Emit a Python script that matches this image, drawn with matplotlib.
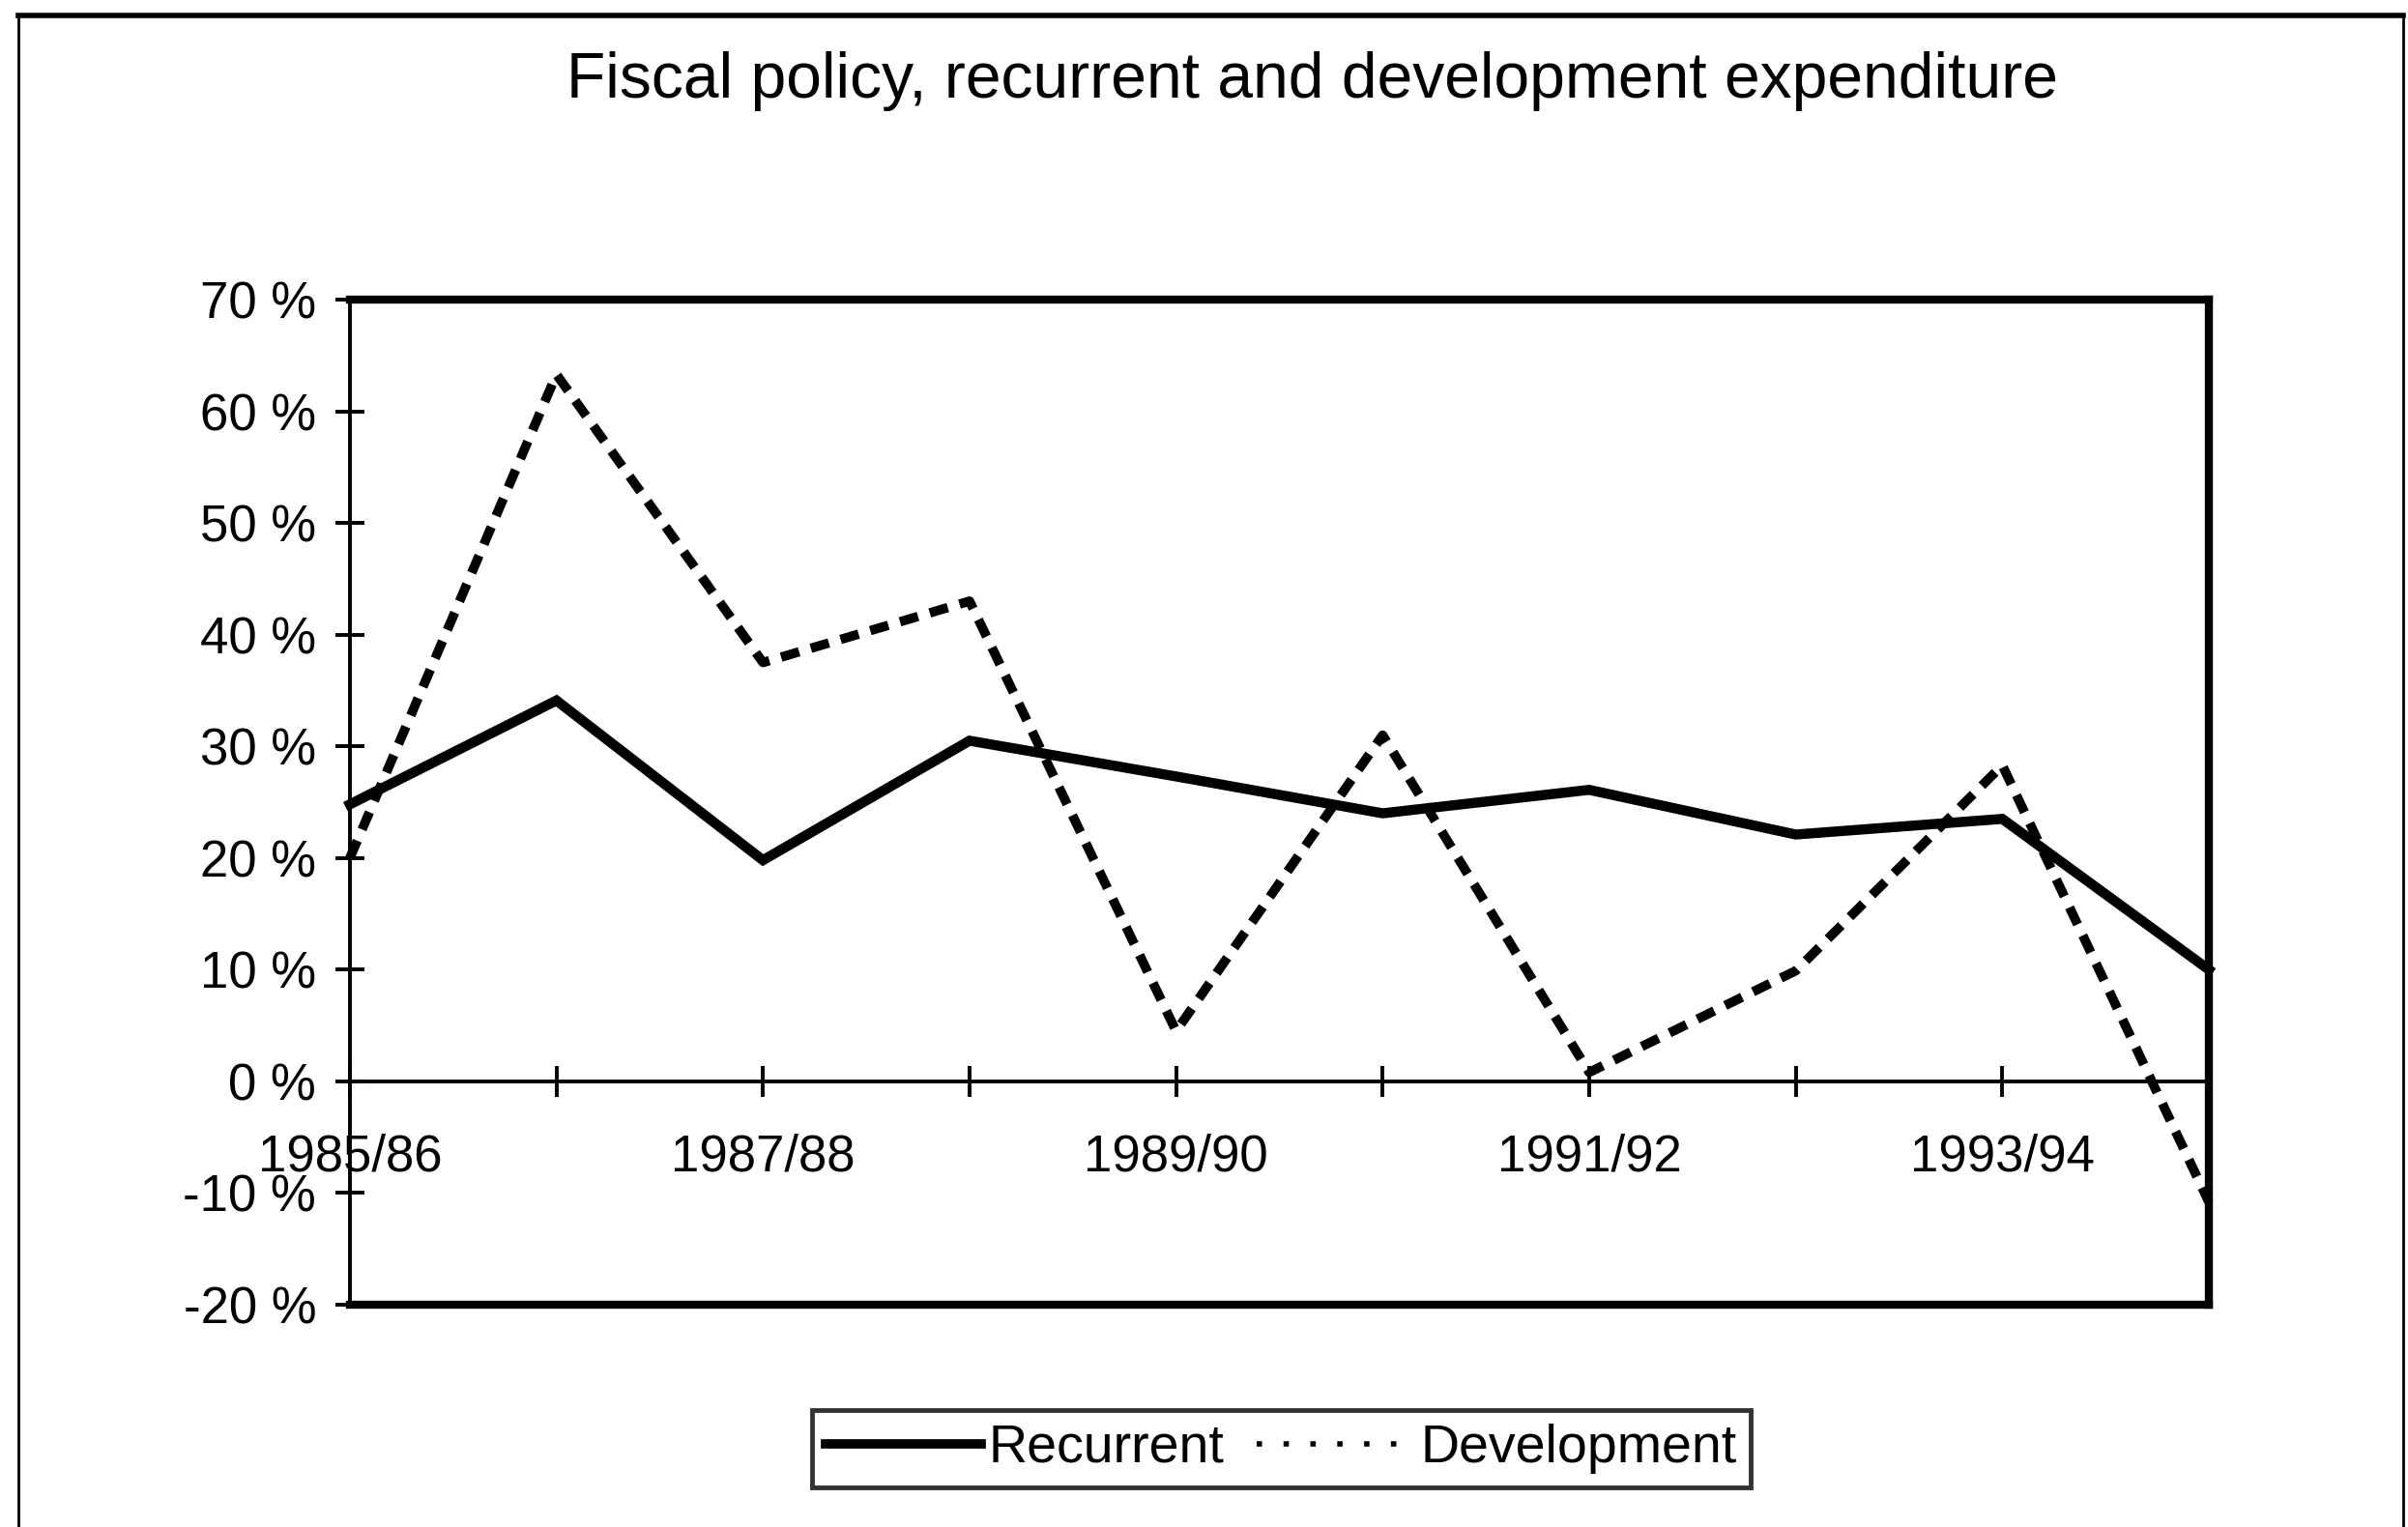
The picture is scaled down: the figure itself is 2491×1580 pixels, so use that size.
import matplotlib
matplotlib.use("Agg")
import matplotlib.pyplot as plt
from matplotlib.lines import Line2D

plt.rcParams['font.family'] = ['Liberation Sans', 'DejaVu Sans']

years = ['1985/86', '1986/87', '1987/88', '1988/89', '1989/90',
         '1990/91', '1991/92', '1992/93', '1993/94', '1994/95']
recurrent = [24.8, 34.1, 19.8, 30.5, 27.3, 24.0, 26.1, 22.1, 23.5, 10.0]
development = [20.0, 63.3, 37.5, 43.0, 4.5, 31.0, 0.8, 9.9, 28.3, -10.8]
y_ticks = [-20, -10, 0, 10, 20, 30, 40, 50, 60, 70]

fig = plt.figure(figsize=(24.91, 15.80), dpi=100)
ax = fig.add_axes([0.1453, 0.1456, 0.9173 - 0.1453, 0.8038 - 0.1456])

x = list(range(len(years)))
ax.plot(x, recurrent, color='black', lw=7.5, solid_joinstyle='miter', clip_on=False, zorder=3)
ax.plot(x, development, color='black', lw=7, linestyle=(0, (2.0, 1.3)),
        clip_on=False, zorder=3)

ax.set_xlim(0, len(years) - 1)
ax.set_ylim(-20, 70)

# category axis sits on the zero line, frame drawn separately
ax.spines['bottom'].set_position(('data', 0))
ax.spines['bottom'].set_linewidth(2.8)
ax.spines['left'].set_linewidth(2.8)
ax.spines['top'].set_linewidth(6)
ax.spines['right'].set_linewidth(6)
ax.axhline(-20, color='black', lw=6, clip_on=False, zorder=4)

ax.set_xticks(x)
ax.set_xticklabels([y if i % 2 == 0 else '' for i, y in enumerate(years)])
ax.set_yticks(y_ticks)
ax.set_yticklabels(['%d %%' % v for v in y_ticks])
ax.tick_params(axis='x', direction='inout', length=23, width=2.8, labelsize=38, pad=27)
ax.tick_params(axis='y', direction='inout', length=22, width=2.8, labelsize=38, pad=14)

fig.text(0.545, 0.947, 'Fiscal policy, recurrent and development expenditure',
         ha='center', va='center', fontsize=47.5)

handles = [Line2D([], [], color='black', lw=7),
           Line2D([], [], color='black', lw=4, linestyle=(0, (1, 4)))]
leg = fig.legend(handles, ['Recurrent', 'Development'], loc='center',
                 bbox_to_anchor=(0.532, 0.0513), ncol=2, fontsize=40,
                 frameon=True, fancybox=False, handlelength=2.9,
                 handletextpad=0.15, columnspacing=0.6, borderpad=0.25,
                 borderaxespad=0)
leg.get_frame().set_edgecolor('black')
leg.get_frame().set_linewidth(3.5)

# outer page border
fig.add_artist(Line2D([19 / 2491, 2486 / 2491], [1 - 16 / 1580, 1 - 16 / 1580],
                      color='black', lw=4, transform=fig.transFigure))
fig.add_artist(Line2D([19 / 2491, 19 / 2491], [0, 1 - 16 / 1580],
                      color='black', lw=2, transform=fig.transFigure))
fig.add_artist(Line2D([2486 / 2491, 2486 / 2491], [0, 1 - 16 / 1580],
                      color='black', lw=2, transform=fig.transFigure))

fig.savefig('out.png', dpi=100)
